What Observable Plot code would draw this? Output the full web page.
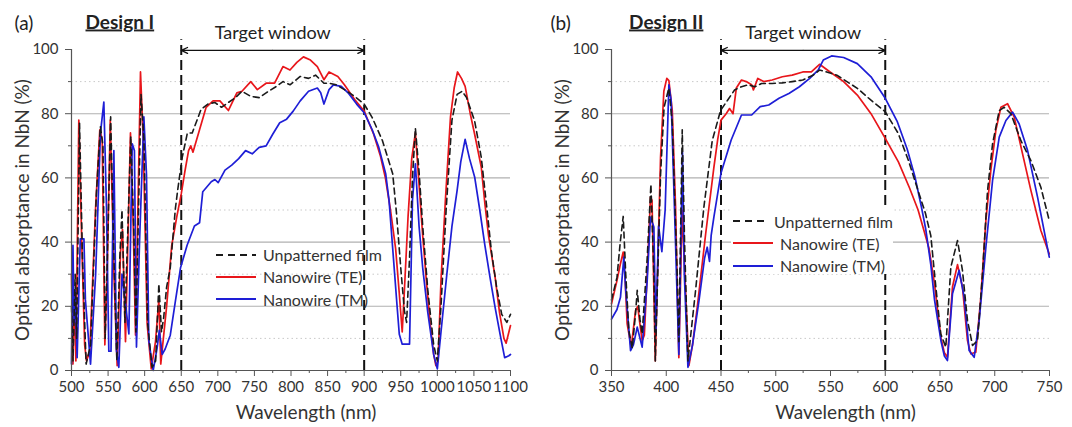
<!DOCTYPE html>
<html>
<head>
<meta charset="utf-8">
<script src="https://cdn.jsdelivr.net/npm/d3@7"></script>
<script src="https://cdn.jsdelivr.net/npm/@observablehq/plot@0.6"></script>
<style>
  body { margin: 0; background: #fff; }
  #wrap { position: relative; width: 1072px; height: 427px; overflow: hidden; font-family: Lato, "Open Sans", sans-serif; }
  .panel { position: absolute; top: 0; }
  .legend { position: absolute; font-size: 16px; color: #333; box-sizing: border-box; }
  .legend .row { display: flex; align-items: center; height: 22.3px; white-space: nowrap; }
  .legend svg { margin-right: 7px; }
</style>
</head>
<body>
<div id="wrap"></div>
<script>
// ---------------- data ----------------
const seriesNames = ["Unpatterned film", "Nanowire (TE)", "Nanowire (TM)"];
const yTicks = [0, 20, 40, 60, 80, 100];
const yMinor = [10, 30, 50, 70, 90];

// Panel (a) Design I
const aXTicks = [500, 550, 600, 650, 700, 750, 800, 850, 900, 950, 1000, 1050, 1100];
const aXMinor = [525, 575, 625, 675, 725, 775, 825, 875, 925, 975, 1025, 1075];
const aWindow = [650, 900];

const aFilmNm = [500,502,505,507,511,515,520,526,534,539.5,543,546,549,553.5,558,562,566,569,573,581,585,588,595,599,604,610,615,619.4,623,626,630,635,642,645,651.4,658.4,665,677,686.4,695.8,705,714.5,724,733,745,756.5,766,780,789,798.6,812.6,824,833.6,845,852,861.7,873,887,900,911,925,939,944,950,955,958,962,966,970,975,980,987,995,1000,1005,1012,1020,1027,1034,1040,1051,1060,1067,1074,1081,1088,1095,1100];
const aFilmAbs = [20,3,30,10,77,35,2,8,55,76,70,10,35,79,35,3,35,50,15,73,45,12,86,72,15,1,3,27,12,16.5,26,32,50.5,56,66.5,74,74,81.3,83,83.5,82,83.5,85,87,85.4,85,86.5,88.5,90,89,91.6,91,92,89.5,89.5,89,87.5,85.4,83,78.8,71.6,61.3,49.5,32,18.6,15,35,60,75.5,62,45,25,8,3,20,50,78,86,87,85,77.7,66.5,52,37,26,17.5,15,17.5];

const aTENm = [500,502,504,506,510,514,518,520.5,525,533,538.7,542,545.6,548.7,553,558,562.4,567,569.7,573.8,580.6,584.3,587.5,594.3,598,603.4,609,614.8,619.4,622,630,637,644,650,655,660,663,666,675,684,693.5,702.8,714.5,726,733,745,754,766,777.6,789,798.6,808,817,826.6,836,845,852,864,873,887,900,913,922,929,936,943,948,952,955,960,965,970,975,980,985,990,995,998,1001,1005,1011,1018,1023,1027.6,1033,1038,1045,1051,1060,1065,1070,1079,1085,1091,1094,1100];
const aTEAbs = [30,2,24,3,78,40,8,3,6,51,75,72,8,30,78,30,1.5,37,44,9,74,46,11,93,72,14.5,0.5,9,22,2,20,39,48,55,62,68.5,70,68,75,82,84,84,81,86.5,87,90,87.5,89.5,89.5,94.7,93.6,96,97.7,96.7,94.7,90.6,93,91.6,89,84.4,80.8,73.6,67,60,50,38,24,12,25,48,66,74,58,42,28,15,5,1.5,3,28,53,79,88,93,91,88.5,80,73.6,63.4,52,42,29,18,10,8.5,14];

const aTMNm = [500,502,503.5,505,507.7,512,517,519,526,533,539.6,544.2,547.8,551,554,557.9,561.5,564.7,569,573.8,578.4,583,586,588.8,593,598.9,602.5,605.7,611.6,617,620,624,628,635,642,649,658,668,675,679.4,691,696,700.5,709.8,719,728.5,737.9,747,756.5,766,775,784.6,794,803,812.6,824,836,840.6,845,852,858,868.7,878,889.7,900,911,920,929.4,934,940,945,948,952,962,964,966,970,975,980,987,995,1000,1005,1013,1020,1027,1032,1038,1044,1051,1058,1065,1072,1079,1086,1092,1097.7,1100];
const aTMAbs = [2,39,15,25,4,41,41,22,2,30,74,83.6,51,6,6,68.5,6,1,30,21,11.4,70.6,68.5,7.3,40,79,61,9.3,0,7,12.5,5,6.7,11,21.6,32,39,45,46,55.7,58.8,59.5,58.5,62.4,64,66,68.5,67.5,69.5,70,73.6,77.2,78.3,80.8,84,87,88,86.5,83,87.5,89,88.5,86.5,83,80.3,75,69.5,61.3,53,35,20,11.3,8.2,8.2,30,53,64.4,45,32,18,5,0.5,12,30,45,56,65,72,66,60.3,50,39,29,19.6,11,4,4.6,5];

// Panel (b) Design II
const bXTicks = [350, 400, 450, 500, 550, 600, 650, 700, 750];
const bXMinor = [375, 425, 475, 525, 575, 625, 675, 725];
const bWindow = [450, 600];

const bFilmNm = [350,355,358,360.7,363,365.8,369,372,373.5,376,378,382.6,386,388.7,390,394.8,398,402.4,405.5,410,411.5,414.6,416.7,419.8,426.8,434.4,442,449.6,456,462.4,468.7,475,481,487,496.7,506,515,524.7,534,540,546.5,555.8,565,574.5,587,600,611.8,621,630,636.7,641.6,646.2,650.7,655.3,659.9,666,670.5,675.1,679.7,684.3,688.8,693.4,698,704.1,708.6,714.7,723.9,733,742.1,749.8];
const bFilmAbs = [22,29,40,48,30,12.5,7,18,25,16,11.4,35,58,30,3,61,82,88,77,30,9,75,40.5,3,25,51,71.6,81,84.2,87.4,88.4,89,88.4,89.4,89.4,89.6,90,90.5,92,93.6,93,92,90,87.9,84.2,80.6,73.9,65.6,56,49,42,26,11.4,7.3,32.2,40.5,31.2,15.6,7.8,9.3,30.1,56,70.6,81,82,80,71.6,65.4,57.1,46.7];

const bTENm = [350,355,358,360.7,362.5,364.3,368,372,374,375.5,378,380,382.6,385.6,387,390,394.8,397.8,400.5,402.4,405.5,408.5,411.5,414.5,417,420.7,424,428.3,436,443.5,447,450,454.7,457.8,461,464,468.7,473,478,479.6,483.6,489,496.7,506,515,524.7,532.5,540,549.6,562,574.5,587,600,612,622,630,635,640,645,648,651,654,656.8,661.4,666,670.5,675.1,678.2,682.7,687.3,691.9,696.4,701,705.6,711.7,717.8,725.4,733,742.1,749.8];
const bTEAbs = [20.8,28,33,36.9,28,14.5,7.3,18.7,20,15.6,9.3,11,30,54,53,3,66.5,87,91,90.3,81,51,4,50,30,1.5,8,19.7,42.6,63.3,72,78,80,81.6,80,88,90.5,90,89,87.4,91,90,90.5,91.5,92,93,93,95.4,93,90,85.8,80,72.3,65,57,50,44,38,27,18,10,5.5,4.1,26,33,26,9.3,5.2,5.7,22.8,46.7,62.3,74.8,82,83.1,78.9,67.5,56.1,43.6,36.3];

const bTMNm = [350,355,358.2,361.3,363,367.4,370,373.5,378,382.6,385.6,388.7,390.5,393,396,399,402.4,404.5,408,411.5,414.8,416.5,419.8,424,430,435,437.4,439.5,441,443.5,450,459.3,468.7,478,485.8,493.6,503,512,521.6,531,538.7,543.4,551,562,574.5,587,600,611,620,627,633,637,641.6,645,648,651,654,656.8,661.4,667.5,672.1,676.6,681.2,685.8,691.9,698,704.1,710.2,716.3,722.3,730,739.1,749.8];
const bTMAbs = [16,19,22.8,35.3,25,6.2,8,13.5,7.3,28,47.8,44.7,12,45,37,50,89,84,45,5,68,30,1,8,22,35,38.4,34,42,47.8,61.5,71.8,79.6,79.6,82.2,82.7,84.8,86.3,88.4,91,93.6,96.7,98,97.5,95.6,91.5,84.8,77.5,69,60.5,51,44,33,22,15.5,9,4.5,3.1,23.9,31.2,22.8,6.2,4.1,15.6,38.4,59.2,72.7,77.9,80.5,76.8,68.5,54,35.3];

// ---------------- drawing ----------------
const colors = ["#1a1a1a", "#e8161b", "#1e1ed6"];
const dashes = ["6,4", null, null];
const rows = (nm, ab) => nm.map((x, i) => ({nm: x, abs: ab[i]}));
const plain = d => String(d);

function panel(cfg) {
  const [w0, w1] = cfg.window;
  const mid = (w0 + w1) / 2;
  const film = rows(cfg.film[0], cfg.film[1]);
  const te = rows(cfg.te[0], cfg.te[1]);
  const tm = rows(cfg.tm[0], cfg.tm[1]);
  const svg = Plot.plot({
    width: 536, height: 427,
    marginLeft: cfg.ml, marginRight: cfg.mr, marginTop: 49, marginBottom: 57,
    style: {fontFamily: "Lato, 'Open Sans', sans-serif", fontSize: "15px", color: "#333", background: "transparent", overflow: "visible"},
    x: {domain: cfg.domain},
    y: {domain: [0, 100]},
    marks: [
      Plot.ruleY(yMinor, {stroke: "#c9c9c9", strokeWidth: 1, strokeDasharray: "1.5,3"}),
      Plot.ruleY(yTicks.filter(d => d > 0 && d < 100), {stroke: "#b0b0b0", strokeWidth: 1.1}),
      Plot.ruleX(cfg.window, {y1: 0, y2: 103, stroke: "#111", strokeWidth: 2, strokeDasharray: "10,5"}),
      Plot.line(te, {x: "nm", y: "abs", stroke: colors[1], strokeWidth: 1.7}),
      Plot.line(tm, {x: "nm", y: "abs", stroke: colors[2], strokeWidth: 1.7}),
      Plot.line(film, {x: "nm", y: "abs", stroke: colors[0], strokeWidth: 1.6, strokeDasharray: dashes[0]}),
      Plot.ruleY([0], {stroke: "#555", strokeWidth: 1.2}),
      Plot.ruleX([cfg.domain[0]], {stroke: "#555", strokeWidth: 1.2}),
      Plot.axisX({ticks: cfg.ticks, tickSize: 6, tickPadding: 5, tickFormat: plain, label: null, stroke: "#555", fontSize: 15}),
      Plot.axisX({ticks: cfg.minor, tickSize: 3, tickFormat: () => "", label: null, stroke: "#555"}),
      Plot.axisY({ticks: yTicks, tickSize: 6, tickPadding: 7, tickFormat: plain, label: null, stroke: "#555", fontSize: 15}),
      Plot.axisY({ticks: yMinor, tickSize: 3, tickFormat: () => "", label: null, stroke: "#555"}),
      Plot.arrow(cfg.window, {x1: () => mid, x2: d => d, y1: () => 99.7, y2: () => 99.7, stroke: "#111", strokeWidth: 1.3, headLength: 8, headAngle: 50}),
      Plot.text(["Target window"], {x: () => mid, frameAnchor: "top", dy: -11, lineAnchor: "bottom", fontSize: 18, fill: "#222"}),
      Plot.text(["Optical absorptance in NbN (%)"], {frameAnchor: "left", dx: -49, rotate: -90, textAnchor: "middle", lineAnchor: "middle", fontSize: 19, fill: "#333"}),
      Plot.text(["Wavelength (nm)"], {frameAnchor: "bottom", dx: 15, dy: 48, lineAnchor: "bottom", fontSize: 19, fill: "#333"}),
      Plot.text([cfg.letter], {frameAnchor: "top-left", dx: cfg.letterDx, dy: -20, textAnchor: "start", lineAnchor: "bottom", fontSize: 19, fill: "#222"}),
      Plot.text([cfg.design], {frameAnchor: "top-left", dx: cfg.designDx, dy: -21, textAnchor: "start", lineAnchor: "bottom", fontSize: 19, fontWeight: "bold", fill: "#222"})
    ]
  });
  d3.select(svg).selectAll("text").filter(function () { return this.textContent === cfg.design; })
    .style("text-decoration", "underline");
  const holder = document.createElement("div");
  holder.className = "panel";
  holder.style.left = cfg.left + "px";
  holder.appendChild(svg);
  return holder;
}

function legend(cfg) {
  const div = document.createElement("div");
  div.className = "legend";
  Object.assign(div.style, cfg.style);
  seriesNames.forEach((name, i) => {
    const row = document.createElement("div");
    row.className = "row";
    const sw = d3.create("svg").attr("width", 40).attr("height", 6);
    sw.append("line").attr("x1", 0).attr("x2", 40).attr("y1", 3).attr("y2", 3)
      .attr("stroke", colors[i]).attr("stroke-width", 1.8)
      .attr("stroke-dasharray", dashes[i] ? "7,5" : null);
    row.appendChild(sw.node());
    const t = document.createElement("span");
    t.textContent = name;
    row.appendChild(t);
    div.appendChild(row);
  });
  return div;
}

const wrap = document.getElementById("wrap");
wrap.appendChild(panel({
  left: 0, ml: 71, mr: 26, domain: [500, 1100], ticks: aXTicks, minor: aXMinor, window: aWindow,
  film: [aFilmNm, aFilmAbs], te: [aTENm, aTEAbs], tm: [aTMNm, aTMAbs],
  letter: "(a)", design: "Design I", letterDx: -57, designDx: 14
}));
wrap.appendChild(panel({
  left: 536, ml: 75, mr: 23, domain: [350, 750], ticks: bXTicks, minor: bXMinor, window: bWindow,
  film: [bFilmNm, bFilmAbs], te: [bTENm, bTEAbs], tm: [bTMNm, bTMAbs],
  letter: "(b)", design: "Design II", letterDx: -61, designDx: 17.6
}));
wrap.appendChild(legend({style: {left: "216px", top: "243.5px"}}));
wrap.appendChild(legend({style: {left: "731px", top: "205px", width: "162px", height: "69px", paddingLeft: "2px", paddingTop: "5px", background: "#fff"}}));
</script>
</body>
</html>
